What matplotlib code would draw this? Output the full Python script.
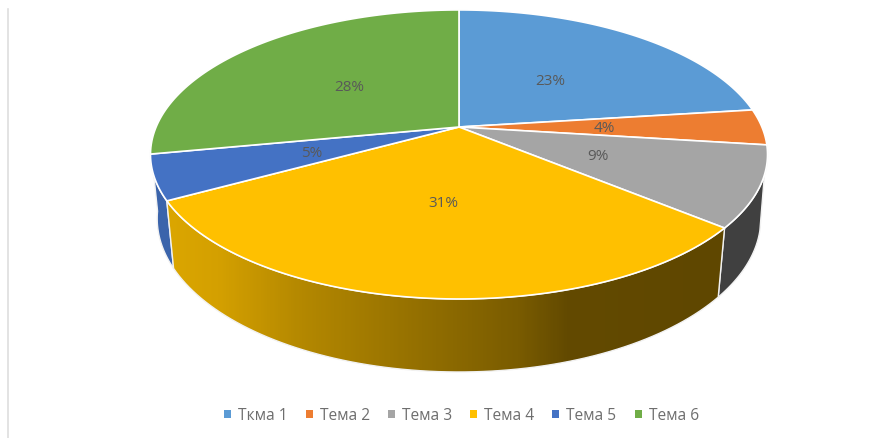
import numpy as np
import matplotlib
matplotlib.use("Agg")
import matplotlib.pyplot as plt
from matplotlib.colors import LinearSegmentedColormap
from matplotlib.patches import Patch, Polygon

# data
temas = ["Ткма 1", "Тема 2", "Тема 3", "Тема 4", "Тема 5", "Тема 6"]
valores = [23, 4, 9, 31, 5, 28]
colores = ["#5B9BD5", "#ED7D31", "#A5A5A5", "#FFC000", "#4472C4", "#70AD47"]

plt.rcParams["font.family"] = ["Open Sans", "DejaVu Sans"]
GRIS = "#595959"

# perspective of the Excel 3D pie, in image pixels
CX, CY = 459, 128
A, B, K = 302.9, 139.3, 0.19
C, M = 64.4, 0.0215

# how far out each label sits, share of the radius
radio_etiqueta = [0.49, 0.48, 0.48, 0.49, 0.50, 0.50]


def proyecta(ang, r=1.0, z=0.0):
    # ang in degrees clockwise from 12 o'clock, z=1 is the bottom of the pie
    t = np.radians(ang)
    u = r * np.sin(t)
    v = r * np.cos(t)
    w = 1 + K * v + M * z
    return CX + A * u / w, CY + (-B * v + C * z) / w


def arco(a1, a2, z=0.0):
    t = np.linspace(a1, a2, 80)
    x, y = proyecta(t, z=z)
    return np.column_stack([x, y])


def pared(a1, a2, b1=None, b2=None):
    # b1, b2 = bottom arc, when it is shorter than the top one (silhouette)
    b1 = a1 if b1 is None else b1
    b2 = a2 if b2 is None else b2
    return np.vstack([arco(a1, a2), arco(b2, b1, z=1.0)])


fig = plt.figure(figsize=(8.93, 4.39), dpi=100, facecolor="white")
ax = fig.add_axes([0, 0, 1, 1])
ax.set_xlim(0, 893)
ax.set_ylim(439, 0)
ax.axis("off")

# grey edge of the pasted picture
ax.plot([7.5, 7.5], [10, 439], color="#DEDEDE", lw=1.2)

cortes = np.cumsum([0] + valores) * 3.6

# walls, only what faces the viewer
borde = "#F2F2F2"
ax.add_patch(Polygon(pared(cortes[2], cortes[3], b1=105), fc="#404040", ec=borde, lw=1, zorder=2))
ax.add_patch(Polygon(pared(cortes[4], 262), fc="#3B64AB", ec=borde, lw=1, zorder=2))

# Tema 4 wall has a horizontal gradient
muro4 = Polygon(pared(cortes[3], cortes[4]), fc="none", ec=borde, lw=1, zorder=4)
ax.add_patch(muro4)
degradado = LinearSegmentedColormap.from_list(
    "muro",
    [(0, "#DBA600"), (0.09, "#D4A000"), (0.24, "#B48800"), (0.485, "#8F6C00"),
     (0.63, "#7A5C00"), (0.72, "#634A00"), (1, "#5F4700")],
)
img = ax.imshow(
    np.linspace(0, 1, 300).reshape(1, -1),
    cmap=degradado,
    extent=(167, 724, 400, 190),
    aspect="auto",
    zorder=3,
)
img.set_clip_path(muro4)
ax.set_xlim(0, 893)
ax.set_ylim(439, 0)

# top of the pie
for i in range(len(valores)):
    puntos = np.vstack([[CX, CY], arco(cortes[i], cortes[i + 1])])
    ax.add_patch(Polygon(puntos, fc=colores[i], ec="white", lw=1.2, joinstyle="round", zorder=5))

# data labels
for i, valor in enumerate(valores):
    x, y = proyecta((cortes[i] + cortes[i + 1]) / 2, r=radio_etiqueta[i])
    ax.text(x, y + 1, f"{valor}%", color=GRIS, fontsize=11, ha="center", va="center", zorder=6)

# legend
marcas = [Patch(fc=c, ec="none") for c in colores]
fig.legend(
    marcas,
    temas,
    loc="center",
    bbox_to_anchor=(461.5 / 893, 1 - 416.5 / 439),
    ncol=6,
    frameon=False,
    fontsize=11.2,
    labelcolor="#6E6E6E",
    handlelength=0.45,
    handleheight=0.45,
    handletextpad=0.45,
    columnspacing=1.16,
)

fig.savefig("out.png", dpi=100)
